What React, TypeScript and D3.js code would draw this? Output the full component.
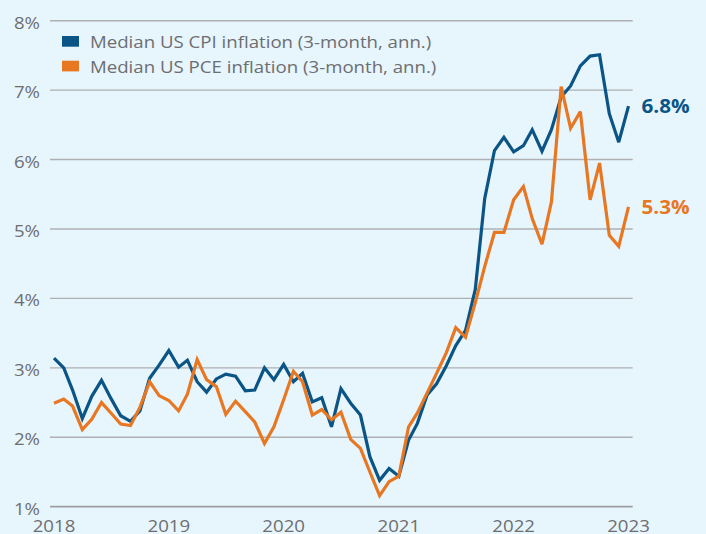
import React from "react";
import * as d3 from "d3";

const months: Date[] = d3.timeMonths(new Date(2018, 0, 1), new Date(2023, 0, 2));

const cpiValues: number[] = [
  3.14, 3.0, 2.68, 2.27, 2.59, 2.82, 2.56, 2.31, 2.23, 2.38, 2.85, 3.04, 3.25, 3.01, 3.11,
  2.8, 2.65, 2.84, 2.91, 2.88, 2.67, 2.68, 3.0, 2.83, 3.05, 2.8, 2.92, 2.51, 2.57, 2.15,
  2.7, 2.49, 2.32, 1.72, 1.38, 1.55, 1.44, 1.96, 2.2, 2.61, 2.77, 3.03, 3.32, 3.54, 4.13,
  5.44, 6.13, 6.32, 6.11, 6.2, 6.43, 6.12, 6.43, 6.9, 7.06, 7.35, 7.49, 7.51, 6.66, 6.25, 6.77,
];

const pceValues: number[] = [
  2.49, 2.55, 2.45, 2.11, 2.26, 2.5, 2.35, 2.19, 2.17, 2.43, 2.8, 2.6, 2.53, 2.38, 2.62,
  3.12, 2.83, 2.73, 2.33, 2.52, 2.37, 2.22, 1.91, 2.15, 2.54, 2.95, 2.8, 2.32, 2.4, 2.25,
  2.36, 1.97, 1.84, 1.5, 1.16, 1.36, 1.44, 2.15, 2.35, 2.64, 2.92, 3.22, 3.58, 3.44, 3.94,
  4.46, 4.95, 4.95, 5.42, 5.61, 5.15, 4.78, 5.39, 7.05, 6.45, 6.69, 5.42, 5.95, 4.91, 4.75, 5.32,
];

const seriesNames: string[] = [
  "Median US CPI inflation (3-month, ann.)",
  "Median US PCE inflation (3-month, ann.)",
];
const seriesColors: string[] = ["#0b5486", "#e87722"];
const endLabels: string[] = ["6.8%", "5.3%"];

const yTicks: number[] = [1, 2, 3, 4, 5, 6, 7, 8];
const xTickYears: number[] = [2018, 2019, 2020, 2021, 2022, 2023];

const W = 706;
const H = 534;
const SX = 1.13;

export default function App() {
  const x = d3
    .scaleTime()
    .domain([new Date(2018, 0, 1), new Date(2023, 0, 1)])
    .range([54, 628.5]);
  const y = d3.scaleLinear().domain([1, 8]).range([506.7, 20.7]);

  const line = d3
    .line<number>()
    .x((_, i) => x(months[i]))
    .y((d) => y(d));

  const series = [cpiValues, pceValues];
  const textColor = "#6d6e71";
  const font = "'Open Sans', 'Noto Sans', sans-serif";

  return (
    <svg
      width={W}
      height={H}
      style={{ position: "absolute", left: 0, top: 0, display: "block" }}
      fontFamily={font}
    >
      <rect x={0} y={0} width={W} height={H} fill="#e7f5fc" />
      {yTicks.map((t) => (
        <g key={t}>
          <line
            x1={50}
            x2={632.7}
            y1={y(t)}
            y2={y(t)}
            stroke={t === 1 ? "#9d9fa2" : "#aeb0b3"}
            strokeWidth={t === 1 ? 1.8 : 1.4}
          />
          <text
            transform={`translate(40,${y(t) + 8}) scale(${SX},1)`}
            textAnchor="end"
            fontSize={16.5}
            fill={textColor}
          >
            {t}%
          </text>
        </g>
      ))}
      {xTickYears.map((yr) => (
        <text
          key={yr}
          transform={`translate(${x(new Date(yr, 0, 1))},531.5) scale(${SX},1)`}
          textAnchor="middle"
          fontSize={16.5}
          fill={textColor}
        >
          {yr}
        </text>
      ))}
      {series.map((s, k) => (
        <path
          key={k}
          d={line(s) || ""}
          fill="none"
          stroke={seriesColors[k]}
          strokeWidth={3.2}
          strokeLinejoin="miter"
          strokeMiterlimit={3}
        />
      ))}
      {series.map((s, k) => (
        <text
          key={"e" + k}
          transform={`translate(641.5,${y(s[s.length - 1]) + 7}) scale(1.06,1)`}
          fontSize={19.5}
          fontWeight="bold"
          fill={seriesColors[k]}
        >
          {endLabels[k]}
        </text>
      ))}
      {seriesNames.map((n, k) => (
        <g key={"l" + k}>
          <rect x={62} y={36 + k * 24.7} width={17} height={10.7} fill={seriesColors[k]} />
          <text
            transform={`translate(90,${48.3 + k * 24.7}) scale(${SX},1)`}
            fontSize={16.5}
            fill={textColor}
          >
            {n}
          </text>
        </g>
      ))}
    </svg>
  );
}
